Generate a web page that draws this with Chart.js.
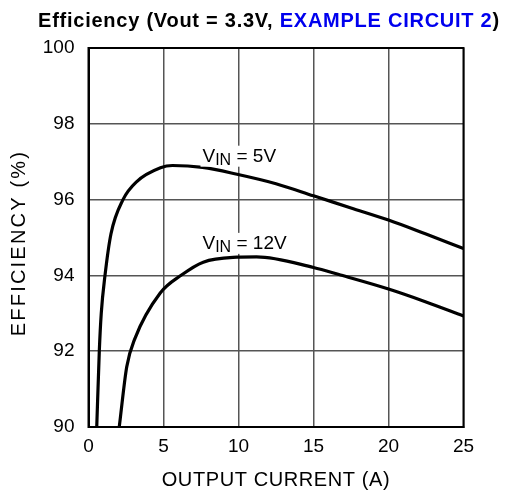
<!DOCTYPE html>
<html><head><meta charset="utf-8">
<script src="https://cdn.jsdelivr.net/npm/chart.js@4/dist/chart.umd.min.js"></script>
<style>html,body{margin:0;padding:0;background:#fff}#wrap{width:505px;height:491px;position:relative}canvas{display:block}</style>
</head><body><div id="wrap"><canvas id="c" width="505" height="491" style="width:505px;height:491px"></canvas></div>
<script>
// ---- data ----
const xTicks = [0, 5, 10, 15, 20, 25];
const yTicks = [90, 92, 94, 96, 98, 100];
const vin5Current = [0.55, 0.72, 0.85, 1.1, 1.5, 2.3, 3.2, 4.8, 5.6, 7.6, 9.9, 12.5, 15, 17.5, 20, 22.5, 25];
const vin5Eff     = [90.0, 92.0, 93.0, 94.0, 95.1, 96.0, 96.47, 96.84, 96.9, 96.85, 96.67, 96.42, 96.1, 95.78, 95.46, 95.09, 94.71];
const vin12Current = [2.05, 2.55, 3.1, 4.77, 6.2, 7.65, 9.9, 11.2, 15, 16.8, 20, 22.5, 25];
const vin12Eff     = [90.0, 91.59, 92.34, 93.53, 94.01, 94.35, 94.48, 94.49, 94.21, 94.01, 93.64, 93.3, 92.93];
const seriesNames = ['VIN = 5V', 'VIN = 12V'];
const titleParts = [['Efficiency (Vout = 3.3V, ', '#000'], ['EXAMPLE CIRCUIT 2', '#0000ee'], [')', '#000']];
const xTitle = 'OUTPUT CURRENT (A)';
const yTitle = 'EFFICIENCY (%)';
// curve labels: main text, subscript, rest, anchored in data units
const curveLabels = [
  {main: 'V', sub: 'IN', rest: ' = 5V', x: 7.6, y: 97.0},
  {main: 'V', sub: 'IN', rest: ' = 12V', x: 7.6, y: 94.7}
];

const FONT = 'Liberation Sans, Arial, Helvetica, sans-serif';
const pts = (xs, ys) => xs.map((x, i) => ({x, y: ys[i]}));

const textPlugin = {
  id: 'textPlugin',
  afterDraw(chart) {
    const ctx = chart.ctx, xs = chart.scales.x, ys = chart.scales.y;
    ctx.save();
    // title
    ctx.font = 'bold 20px ' + FONT;
    ctx.letterSpacing = '0.75px';
    ctx.textBaseline = 'alphabetic';
    ctx.textAlign = 'left';
    let total = titleParts.reduce((s, p) => s + ctx.measureText(p[0]).width, 0);
    let tx = 269 - total / 2;
    for (const [t, c] of titleParts) { ctx.fillStyle = c; ctx.fillText(t, tx, 27); tx += ctx.measureText(t).width; }
    ctx.letterSpacing = '0px';
    // curve labels
    for (const l of curveLabels) {
      const px = xs.getPixelForValue(l.x), py = ys.getPixelForValue(l.y);
      ctx.font = '19px ' + FONT; const w1 = ctx.measureText(l.main).width;
      ctx.font = '16px ' + FONT; const w2 = ctx.measureText(l.sub).width;
      ctx.font = '19px ' + FONT; const w3 = ctx.measureText(l.rest).width;
      ctx.fillStyle = '#fff';
      ctx.fillRect(px - 2, py - 16, w1 + w2 + w3 + 4, 21);
      ctx.fillStyle = '#000';
      ctx.font = '19px ' + FONT; ctx.fillText(l.main, px, py);
      ctx.font = '16px ' + FONT; ctx.fillText(l.sub, px + w1, py + 3);
      ctx.font = '19px ' + FONT; ctx.fillText(l.rest, px + w1 + w2, py);
    }
    // axis titles
    ctx.fillStyle = '#000';
    ctx.textAlign = 'center';
    ctx.textBaseline = 'middle';
    ctx.font = '20px ' + FONT;
    ctx.letterSpacing = '0.6px';
    ctx.fillText(xTitle, 276, 480);
    ctx.translate(19, 243);
    ctx.rotate(-Math.PI / 2);
    ctx.letterSpacing = '2.2px';
    ctx.fillText(yTitle, 0, 0);
    ctx.restore();
  }
};

new Chart(document.getElementById('c'), {
  type: 'line',
  data: {
    datasets: [
      {label: seriesNames[0], data: pts(vin5Current, vin5Eff), borderColor: '#000', borderWidth: 3.2, pointRadius: 0, cubicInterpolationMode: 'monotone', fill: false},
      {label: seriesNames[1], data: pts(vin12Current, vin12Eff), borderColor: '#000', borderWidth: 3.2, pointRadius: 0, cubicInterpolationMode: 'monotone', fill: false}
    ]
  },
  options: {
    responsive: false,
    animation: false,
    devicePixelRatio: 1,
    layout: {padding: {top: 48, left: 0, right: 41.5, bottom: 0}},
    plugins: {legend: {display: false}, tooltip: {enabled: false}, title: {display: false}},
    scales: {
      x: {
        type: 'linear', min: xTicks[0], max: xTicks[xTicks.length - 1],
        afterBuildTicks: s => { s.ticks = xTicks.map(v => ({value: v})); },
        afterFit: s => { s.height = 64; },
        ticks: {font: {size: 19, family: FONT}, color: '#000', padding: 8, maxRotation: 0},
        grid: {color: '#555', lineWidth: 1.5, drawTicks: false},
        border: {color: '#000', width: 2}
      },
      y: {
        min: yTicks[0], max: yTicks[yTicks.length - 1],
        afterBuildTicks: s => { s.ticks = yTicks.map(v => ({value: v})); },
        afterFit: s => { s.width = 88.5; },
        ticks: {font: {size: 19, family: FONT}, color: '#000', padding: 14},
        grid: {color: '#555', lineWidth: 1.5, drawTicks: false},
        border: {color: '#000', width: 2}
      }
    }
  },
  plugins: [textPlugin, {
    id: 'frame',
    afterDatasetsDraw(chart) {
      const a = chart.chartArea, ctx = chart.ctx;
      ctx.save(); ctx.strokeStyle = '#000'; ctx.lineWidth = 2;
      ctx.strokeRect(a.left, a.top, a.right - a.left, a.bottom - a.top);
      ctx.restore();
    }
  }]
});
</script></body></html>
